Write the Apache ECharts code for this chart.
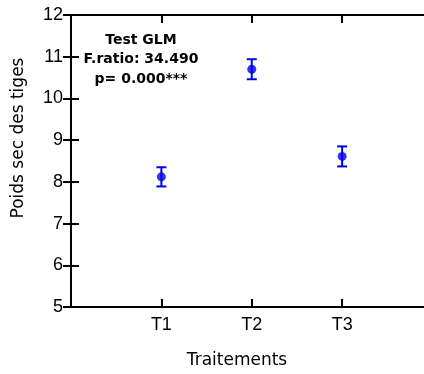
<!DOCTYPE html>
<html>
<head>
<meta charset="utf-8">
<script src="https://cdn.jsdelivr.net/npm/echarts@6/dist/echarts.min.js"></script>
<style>html,body{margin:0;padding:0;background:#fff}#c{width:424px;height:374px}</style>
</head>
<body>
<div id="c"></div>
<script>
var categories = ["T1", "T2", "T3"];
var means = [8.12, 10.70, 8.61];
var errors = [0.23, 0.24, 0.24];
var yTicks = [5, 6, 7, 8, 9, 10, 11, 12];
var annotation = ["Test GLM", "F.ratio: 34.490", "p= 0.000***"];

var pts = categories.map(function (c, i) { return [i + 1, means[i]]; });
var bars = categories.map(function (c, i) { return [i + 1, means[i] - errors[i], means[i] + errors[i]]; });

var font = "'Liberation Sans', Arial, sans-serif";
var wide = "'DejaVu Sans', sans-serif";
var axisLine = { show: true, lineStyle: { color: '#000', width: 2 } };
var tickIn = { show: true, inside: true, length: 8, lineStyle: { color: '#000', width: 2 } };

var chart = echarts.init(document.getElementById('c'), null, { renderer: 'canvas' });
chart.setOption({
  animation: false,
  backgroundColor: '#fff',
  grid: { left: 71, width: 357, top: 15, height: 292, containLabel: false, outerBoundsMode: 'none' },
  xAxis: [{
    type: 'value', position: 'bottom', min: 0, max: 3.95, interval: 1,
    axisLine: axisLine, axisTick: tickIn, splitLine: { show: false },
    axisLabel: { show: true, margin: 9, color: '#000', fontSize: 18, fontFamily: font,
      formatter: function (v) { return (Math.abs(v - Math.round(v)) < 1e-6 && categories[Math.round(v) - 1]) || ''; } },
    name: 'Traitements', nameLocation: 'middle', nameGap: 45,
    nameTextStyle: { color: '#000', fontSize: 17, fontFamily: wide, padding: [0, 25, 0, 0] }
  }, {
    type: 'value', position: 'top', min: 0, max: 3.95, interval: 1,
    axisLine: axisLine, axisTick: tickIn, axisLabel: { show: false }, splitLine: { show: false }
  }],
  yAxis: [{
    type: 'value', position: 'left', min: yTicks[0], max: yTicks[yTicks.length - 1], interval: 1,
    axisLine: axisLine, axisTick: tickIn, splitLine: { show: false },
    axisLabel: { margin: 8, color: '#000', fontSize: 18, fontFamily: font },
    name: 'Poids sec des tiges', nameLocation: 'middle', nameGap: 44,
    nameTextStyle: { color: '#000', fontSize: 17, fontFamily: wide, padding: [0, 0, 0, 46] }
  }, {
    type: 'value', position: 'right', min: yTicks[0], max: yTicks[yTicks.length - 1], interval: 1,
    axisLine: axisLine, axisTick: tickIn, axisLabel: { show: false }, splitLine: { show: false }
  }],
  graphic: annotation.map(function (t, i) {
    return { type: 'text', x: 141, y: 40 + i * 19.5, z: 10,
      style: { text: t, textAlign: 'center', textVerticalAlign: 'middle', fill: '#000',
        font: 'bold 14px ' + wide } };
  }),
  series: [{
    type: 'custom', xAxisIndex: 0, yAxisIndex: 0, data: bars, z: 3,
    renderItem: function (params, api) {
      var x = api.value(0);
      var lo = api.coord([x, api.value(1)]);
      var hi = api.coord([x, api.value(2)]);
      var w = 5;
      var st = { stroke: '#0000ee', lineWidth: 2, fill: null };
      return { type: 'group', children: [
        { type: 'line', shape: { x1: lo[0], y1: lo[1], x2: hi[0], y2: hi[1] }, style: st },
        { type: 'line', shape: { x1: lo[0] - w, y1: lo[1], x2: lo[0] + w, y2: lo[1] }, style: st },
        { type: 'line', shape: { x1: hi[0] - w, y1: hi[1], x2: hi[0] + w, y2: hi[1] }, style: st }
      ] };
    }
  }, {
    type: 'scatter', xAxisIndex: 0, yAxisIndex: 0, data: pts, symbol: 'circle', symbolSize: 9,
    itemStyle: { color: '#0000ee' }, z: 4
  }]
});
</script>
</body>
</html>
